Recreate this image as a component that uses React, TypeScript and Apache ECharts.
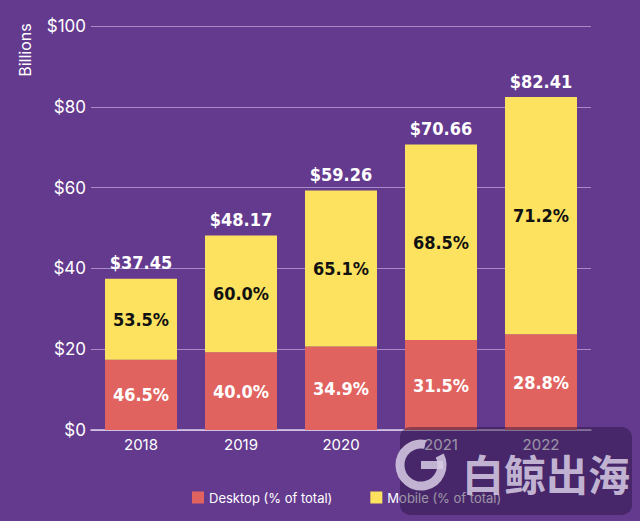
import React, { useEffect, useRef } from "react";
import * as echarts from "echarts";

const years = ["2018", "2019", "2020", "2021", "2022"];
const totals = [37.45, 48.17, 59.26, 70.66, 82.41];
const desktopValues = [17.41, 19.27, 20.68, 22.26, 23.73];
const mobileValues = [20.04, 28.9, 38.58, 48.4, 58.68];
const desktopPct = ["46.5%", "40.0%", "34.9%", "31.5%", "28.8%"];
const mobilePct = ["53.5%", "60.0%", "65.1%", "68.5%", "71.2%"];
const yTicks = [0, 20, 40, 60, 80, 100];

const BG = "#643a8f";
const RED = "#e1635f";
const YELLOW = "#fde25f";
const COND = "'DejaVu Sans Condensed', 'Liberation Sans Narrow', sans-serif";
const SANS = "Inter, 'Noto Sans', sans-serif";

export default function App() {
  const ref = useRef<HTMLDivElement>(null);
  useEffect(() => {
    if (!ref.current) return;
    const chart = echarts.init(ref.current, null, { renderer: "svg" });
    chart.setOption({
      animation: false,
      backgroundColor: BG,
      grid: { left: 91, right: 49, top: 26, bottom: 91 },
      legend: {
        left: 187,
        top: 486,
        itemWidth: 12,
        itemHeight: 12,
        itemGap: 38,
        icon: "rect",
        data: ["Desktop (% of total)", "Mobile (% of total)"],
        textStyle: { color: "#ffffff", fontSize: 13, fontFamily: SANS },
      },
      xAxis: {
        type: "category",
        data: years,
        axisTick: { show: false },
        axisLine: { lineStyle: { color: "#ddd2ea", width: 1.5 } },
        axisLabel: { color: "#ffffff", fontSize: 15, fontFamily: SANS, margin: 7 },
      },
      yAxis: {
        type: "value",
        min: yTicks[0],
        max: yTicks[yTicks.length - 1],
        interval: 20,
        axisLabel: {
          color: "#ffffff",
          fontSize: 17,
          fontFamily: SANS,
          margin: 5,
          formatter: (v: number) => "$" + v,
        },
        splitLine: { lineStyle: { color: "#a88bc6", width: 1 } },
        axisLine: { show: false },
        axisTick: { show: false },
      },
      series: [
        {
          name: "Desktop (% of total)",
          type: "bar",
          stack: "total",
          barWidth: 72,
          data: desktopValues,
          itemStyle: { color: RED },
          label: {
            show: true,
            position: "inside",
            color: "#ffffff",
            fontSize: 18,
            fontWeight: "bold",
            fontFamily: COND,
            formatter: (p: any) => desktopPct[p.dataIndex],
          },
        },
        {
          name: "Mobile (% of total)",
          type: "bar",
          stack: "total",
          barWidth: 72,
          data: mobileValues,
          itemStyle: { color: YELLOW },
          label: {
            show: true,
            position: "inside",
            color: "#111111",
            fontSize: 18,
            fontWeight: "bold",
            fontFamily: COND,
            formatter: (p: any) => mobilePct[p.dataIndex],
          },
        },
        {
          name: "Total",
          type: "scatter",
          data: totals,
          symbolSize: 0,
          itemStyle: { color: BG, opacity: 1 },
          label: {
            show: true,
            position: "top",
            distance: 7,
            color: "#ffffff",
            opacity: 1,
            fontSize: 18,
            fontWeight: "bold",
            fontFamily: COND,
            formatter: (p: any) => "$" + totals[p.dataIndex].toFixed(2),
          },
        },
      ],
      graphic: [
        {
          type: "text",
          x: 25,
          y: 50,
          rotation: Math.PI / 2,
          style: {
            text: "Billions",
            fill: "#ffffff",
            fontSize: 16,
            fontFamily: SANS,
            align: "center",
            verticalAlign: "middle",
          },
        },
        {
          type: "rect",
          shape: { x: 400, y: 427, width: 232, height: 88, r: 10 },
          style: { fill: "rgba(35, 15, 60, 0.45)" },
          z: 100,
        },
        {
          type: "arc",
          shape: { cx: 421, cy: 465, r: 21, startAngle: -Math.PI * 0.15, endAngle: Math.PI * 1.85 - 0.9 },
          style: { stroke: "rgba(215, 205, 228, 0.85)", lineWidth: 9, fill: "none" },
          z: 101,
        },
        {
          type: "rect",
          shape: { x: 421, y: 461, width: 22, height: 8 },
          style: { fill: "rgba(215, 205, 228, 0.85)" },
          z: 101,
        },
        {
          type: "text",
          x: 546,
          y: 472,
          style: {
            text: "白鲸出海",
            fill: "rgba(215, 205, 228, 0.85)",
            fontSize: 42,
            fontWeight: "bold",
            fontFamily: "'Noto Sans CJK SC', sans-serif",
            align: "center",
            verticalAlign: "middle",
          },
          z: 101,
        },
      ],
    });
    return () => chart.dispose();
  }, []);
  return (
    <div
      ref={ref}
      style={{ position: "fixed", left: 0, top: 0, width: 640, height: 521 }}
    />
  );
}
